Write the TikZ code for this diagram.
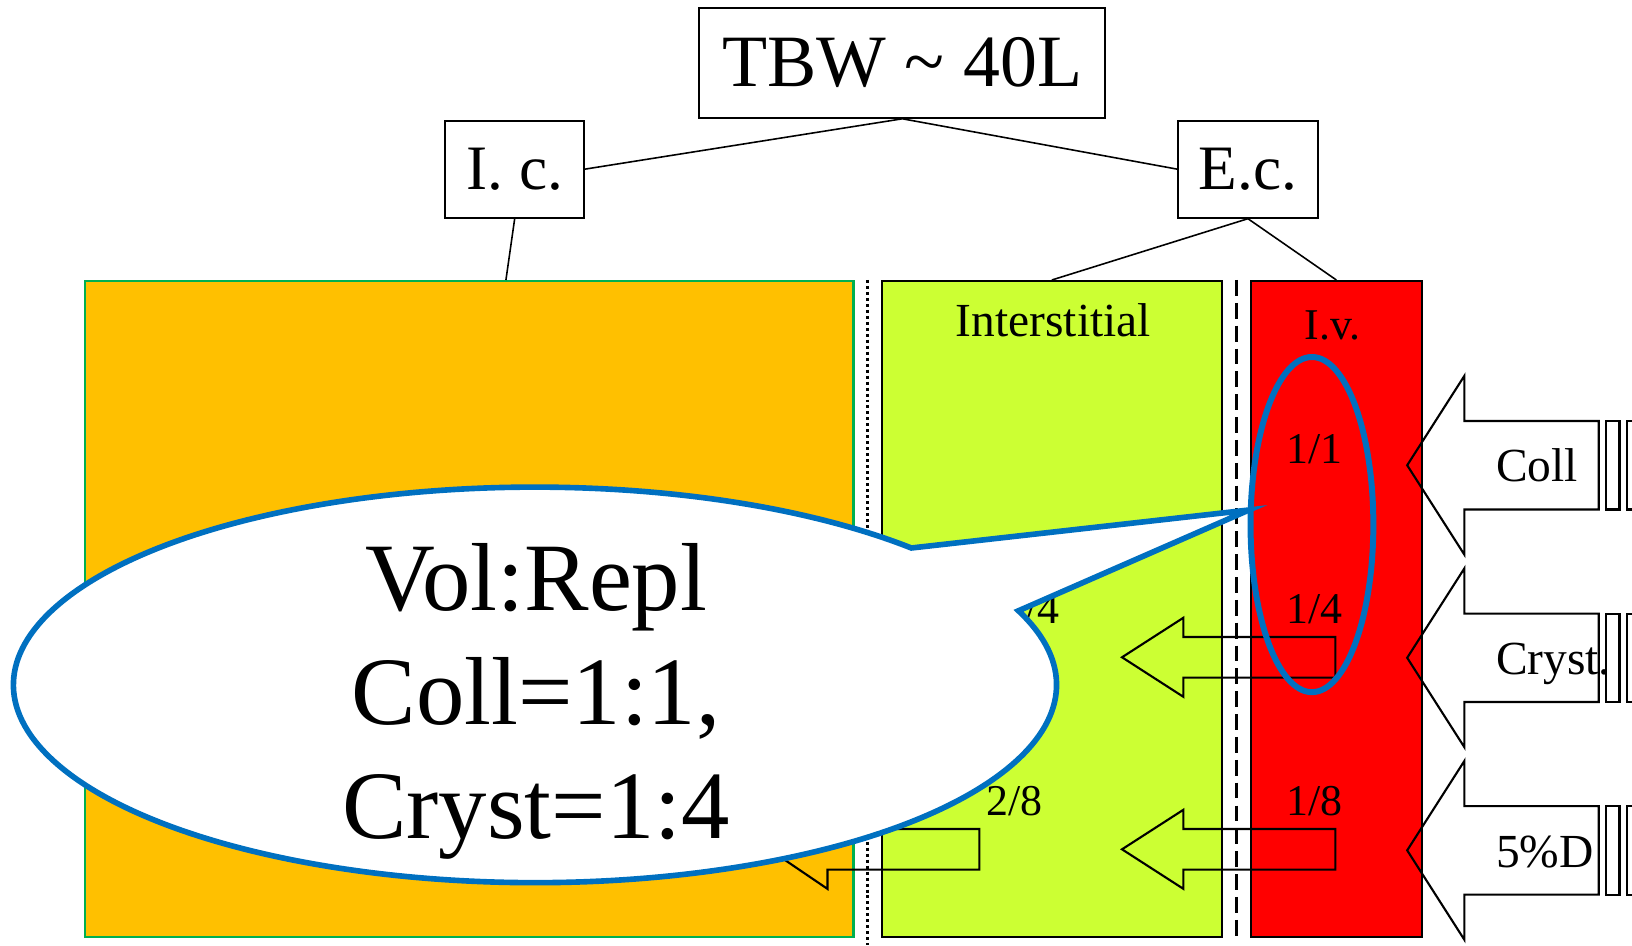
\documentclass[tikz,border=0pt]{standalone}
\usepackage{fontspec}
\setmainfont{Liberation Serif}
\usetikzlibrary{calc}
\definecolor{icorange}{HTML}{FFC000}
\definecolor{icgreen}{HTML}{00B050}
\definecolor{interlime}{HTML}{CCFF33}
\definecolor{callblue}{HTML}{0070C0}
\tikzset{
  box/.style={draw, line width=1.2pt, inner sep=0pt},
  link/.style={line width=0.9pt},
  blockarrow/.style={draw, line width=1.2pt, line join=miter},
  frac/.style={inner sep=0pt, font=\fontsize{25}{30}\selectfont},
  sidelabel/.style={anchor=base west, inner sep=0pt, font=\fontsize{27}{32}\selectfont},
}
\begin{document}
\begin{tikzpicture}[x=0.020816cm, y=-0.020816cm]
\clip (0,0) rectangle (1568,908);
\node[box, minimum width=8.12cm, minimum height=2.19cm, font=\fontsize{42}{50}\selectfont] (tbw) at (867,60.5) {TBW \textasciitilde{} 40L};
\node[box, minimum width=2.77cm, minimum height=1.94cm, font=\fontsize{36}{42}\selectfont] (ic) at (494.5,162.5) {I. c.};
\node[box, minimum width=2.79cm, minimum height=1.94cm, font=\fontsize{36}{42}\selectfont] (ec) at (1199,162.5) {E.c.};
\node[draw=icgreen, line width=1.2pt, fill=icorange, inner sep=0pt, minimum width=15.36cm, minimum height=13.11cm, anchor=north west] (icbox) at (81,269) {};
\node[box, fill=interlime, minimum width=6.81cm, minimum height=13.11cm, anchor=north west] (inter) at (846,269) {};
\node[box, fill=red, minimum width=3.41cm, minimum height=13.11cm, anchor=north west] (iv) at (1201,269) {};
\draw[link] (tbw.south) -- (ic.east);
\draw[link] (tbw.south) -- (ec.west);
\draw[link] (ic.south) -- ([xshift=0.73cm]icbox.north);
\draw[link] (ec.south) -- (inter.north);
\draw[link] (ec.south) -- (iv.north);
\draw[line width=1.7pt, dash pattern=on 1.7pt off 1.7pt] (833,269) -- (833,908);
\draw[line width=1.2pt, dash pattern=on 9pt off 4pt] (1188,269) -- (1188,905);
\node[font=\fontsize{27}{32}\selectfont] (intertxt) at (1012,308) {Interstitial};
\node[font=\fontsize{25}{30}\selectfont] (ivtxt) at (1280,313) {I.v.};
\node[frac] (ivcoll) at (1263,432) {1/1};
\node[frac] (ivcryst) at (1263,585) {1/4};
\node[frac] (ivdext) at (1263,770) {1/8};
\node[frac] (intcryst) at (991,585) {3/4};
\node[frac] (intdext) at (975,770) {2/8};
\foreach \yy in {631.5,816}
  \draw[blockarrow] (1078,\yy) -- (1137,\yy-38) -- (1137,\yy-19.5) -- (1283,\yy-19.5) -- (1283,\yy+19.5) -- (1137,\yy+19.5) -- (1137,\yy+38) -- cycle;
\draw[blockarrow] (739,816) -- (795,778) -- (795,796.5) -- (941,796.5) -- (941,835.5) -- (795,835.5) -- (795,854) -- cycle;
\foreach \yy/\lab/\nm in {447/Coll/coll, 632/Cryst./cryst, 817/5\%D/dext}{
  \draw[blockarrow] (1352,\yy) -- (1407,\yy-86) -- (1407,\yy-42.5) -- (1536,\yy-42.5) -- (1536,\yy+42.5) -- (1407,\yy+42.5) -- (1407,\yy+86) -- cycle;
  \draw[blockarrow] (1543,\yy-42.5) rectangle (1556,\yy+42.5);
  \draw[blockarrow] (1563,\yy-42.5) rectangle (1590,\yy+42.5);
  \node[sidelabel] (\nm) at (1437,\yy+16) {\lab};
}
\draw[callblue, line width=3.4pt] (1260.5,504) ellipse [x radius=59, y radius=161];
\coordinate (callc) at (514,658);
\coordinate (calltip) at (1200,490);
\draw[callblue, line width=3.2pt, fill=white, line join=miter] ($(callc)+(-43.8:501 and 190)$) -- (calltip) -- ($(callc)+(-22:501 and 190)$) arc[start angle=-22, end angle=316.2, x radius=501, y radius=190] -- cycle;
\node[align=center, inner sep=0pt, font=\fontsize{55}{65}\selectfont] (calltxt) at (515,674) {Vol:Repl\\Coll=1:1,\\Cryst=1:4};
\end{tikzpicture}
\end{document}
